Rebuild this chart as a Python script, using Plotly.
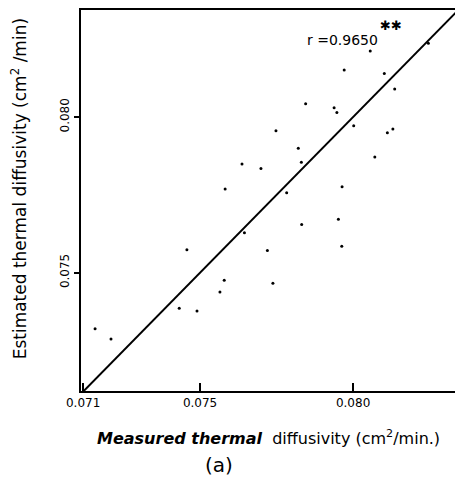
import plotly.graph_objects as go

# Measured (x) and estimated (y) thermal diffusivity, cm^2/min
measured = [0.08246, 0.08056, 0.07971, 0.08102, 0.08136, 0.07845, 0.07938, 0.07947,
            0.07748, 0.08002, 0.08130, 0.08112, 0.07821, 0.07637, 0.07699, 0.07831,
            0.08071, 0.07582, 0.07783, 0.07964, 0.07952, 0.07832, 0.07645, 0.07457,
            0.07720, 0.07963, 0.07579, 0.07738, 0.07565, 0.07432, 0.07490, 0.07157,
            0.07209]
estimated = [0.08237, 0.08212, 0.08151, 0.08140, 0.08090, 0.08043, 0.08030, 0.08015,
             0.07956, 0.07972, 0.07962, 0.07950, 0.07900, 0.07849, 0.07835, 0.07855,
             0.07872, 0.07769, 0.07757, 0.07776, 0.07672, 0.07655, 0.07628, 0.07574,
             0.07571, 0.07585, 0.07476, 0.07466, 0.07438, 0.07386, 0.07377, 0.07320,
             0.07287]

# 1:1 line
line_x = [0.0711, 0.0834]
line_y = [0.0711, 0.0834]

x_tickvals = [0.07118, 0.075, 0.080]
x_ticktext = ["0.071", "0.075", "0.080"]
y_tickvals = [0.075, 0.080]
y_ticktext = ["0.075", "0.080"]

FONT = "DejaVu Sans"

fig = go.Figure()
fig.add_trace(go.Scatter(x=line_x, y=line_y, mode="lines",
                         line=dict(color="black", width=2), hoverinfo="skip",
                         showlegend=False))
fig.add_trace(go.Scatter(x=measured, y=estimated, mode="markers",
                         marker=dict(color="black", size=3), showlegend=False))

fig.update_layout(
    width=455, height=483,
    margin=dict(l=81, r=0, t=10, b=92),
    paper_bgcolor="white", plot_bgcolor="white",
    font=dict(family=FONT, color="black", size=12),
    xaxis=dict(range=[0.07111, 0.08333], tickvals=x_tickvals, ticktext=x_ticktext,
               ticks="inside", ticklen=8, tickwidth=1.5, tickcolor="black",
               showline=True, linecolor="black", linewidth=2, mirror=True,
               showgrid=False, zeroline=False,
               tickfont=dict(family=FONT, size=12)),
    yaxis=dict(range=[0.0712, 0.08344], tickvals=y_tickvals, ticktext=y_ticktext,
               ticks="outside", ticklen=5, tickwidth=1.5, tickcolor="black",
               tickangle=-90,
               showline=True, linecolor="black", linewidth=2,
               showgrid=False, zeroline=False,
               tickfont=dict(family=FONT, size=12)),
    annotations=[
        dict(text="Estimated thermal diffusivity (cm<sup>2</sup> /min)",
             xref="paper", yref="paper", x=-0.165, y=0.53, xanchor="center",
             yanchor="middle", textangle=-90, showarrow=False,
             font=dict(family=FONT, size=17)),
        dict(text="<b><i>Measured thermal</i></b>  diffusivity (cm<sup>2</sup>/min.)",
             xref="paper", yref="paper", x=0.5, y=-0.121, xanchor="center",
             yanchor="middle", showarrow=False, font=dict(family=FONT, size=16)),
        dict(text="(a)", xref="paper", yref="paper", x=0.37, y=-0.194,
             xanchor="center", yanchor="middle", showarrow=False,
             font=dict(family=FONT, size=20)),
        dict(text="r =0.9650", xref="x", yref="y", x=0.07967, y=0.08247,
             xanchor="center", yanchor="middle", showarrow=False,
             font=dict(family=FONT, size=14)),
        dict(text="✱✱", xref="x", yref="y", x=0.08124, y=0.08295,
             xanchor="center", yanchor="middle", showarrow=False,
             font=dict(family=FONT, size=13)),
    ],
)

fig.write_html("out.html")
